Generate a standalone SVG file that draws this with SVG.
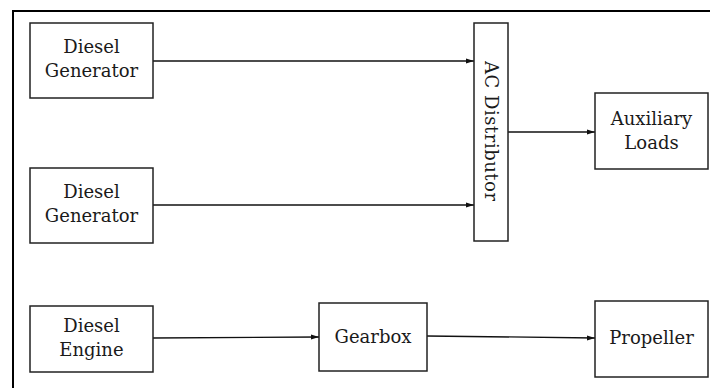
<svg xmlns="http://www.w3.org/2000/svg" width="710" height="388" viewBox="0 0 710 388">
<style>
.box{fill:#fff;stroke:#222;stroke-width:1.5}
.lbl{font-family:"DejaVu Serif","Liberation Serif",serif;font-size:18px;fill:#1a1a1a;text-anchor:middle}
.ln{stroke:#111;stroke-width:1.3;fill:none;marker-end:url(#ah)}
</style>
<defs>
<marker id="ah" viewBox="0 0 8 6" refX="8" refY="3" markerWidth="8" markerHeight="6" markerUnits="userSpaceOnUse" orient="auto">
<path d="M0,0.5 L8,3 L0,5.5 Z" fill="#111"/>
</marker>
</defs>
<rect width="710" height="388" fill="#fff"/>
<path d="M13,388 V11 H710" fill="none" stroke="#000" stroke-width="2"/>
<g id="connectors">
<line class="ln" x1="153" y1="61" x2="474" y2="61"/>
<line class="ln" x1="141" y1="205" x2="474" y2="205"/>
<line class="ln" x1="508" y1="132" x2="595" y2="132"/>
<line class="ln" x1="153" y1="338" x2="319" y2="337"/>
<line class="ln" x1="427" y1="336" x2="595" y2="338"/>
</g>
<g id="dg1">
<rect class="box" x="30" y="23" width="123" height="75"/>
<text class="lbl" x="91.5" y="53">Diesel</text>
<text class="lbl" x="91.5" y="77">Generator</text>
</g>
<g id="dg2">
<rect class="box" x="30" y="168" width="123" height="75"/>
<text class="lbl" x="91.5" y="198">Diesel</text>
<text class="lbl" x="91.5" y="222">Generator</text>
</g>
<g id="engine">
<rect class="box" x="30" y="306" width="123" height="66"/>
<text class="lbl" x="91.5" y="332">Diesel</text>
<text class="lbl" x="91.5" y="356">Engine</text>
</g>
<g id="gearbox">
<rect class="box" x="319" y="303" width="108" height="68"/>
<text class="lbl" x="373" y="343">Gearbox</text>
</g>
<g id="propeller">
<rect class="box" x="595" y="301" width="113" height="76"/>
<text class="lbl" x="651.5" y="344">Propeller</text>
</g>
<g id="acdist">
<rect class="box" x="474" y="23" width="34" height="218"/>
<text class="lbl" transform="translate(485,131) rotate(90)" x="0" y="0" textLength="140">AC Distributor</text>
</g>
<g id="aux">
<rect class="box" x="595" y="93" width="113" height="76"/>
<text class="lbl" x="651.5" y="125">Auxiliary</text>
<text class="lbl" x="651.5" y="149">Loads</text>
</g>
</svg>
